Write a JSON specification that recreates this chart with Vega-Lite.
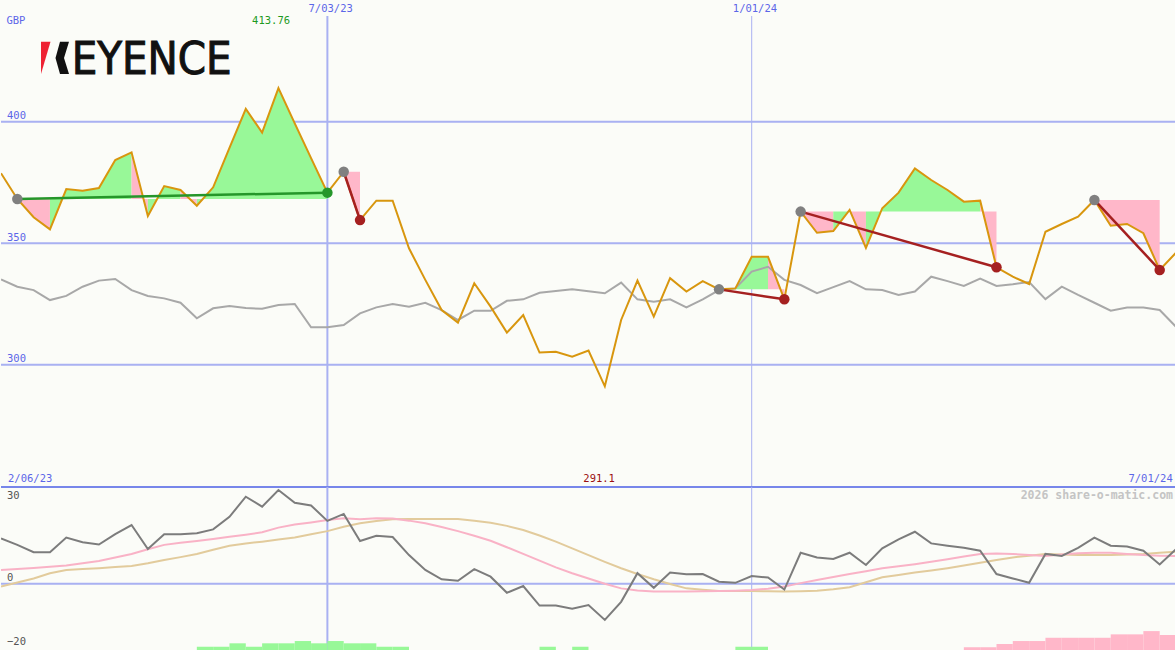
{
"$schema": "https://vega.github.io/schema/vega-lite/v6.json",
"background": "#fbfcf8",
"padding": 0,
"spacing": 0,
"bounds": "flush",
"config": {"view": {"stroke": null}, "axis": {"disable": true}, "legend": {"disable": true}, "text": {"font": "DejaVu Sans Mono", "fontSize": 10.5}},
"datasets": {
"main": [
{"w":0,"p":378.8,"r":335.1,"m":15.5,"f":4.7,"s":-1.0},
{"w":1,"p":368.2,"r":332.1,"m":13.3,"f":5.0,"s":0.4},
{"w":2,"p":360.7,"r":330.7,"m":10.8,"f":5.4,"s":1.8},
{"w":3,"p":355.7,"r":326.6,"m":10.8,"f":5.8,"s":3.6},
{"w":4,"p":372.3,"r":328.3,"m":15.8,"f":6.2,"s":4.7},
{"w":5,"p":371.6,"r":332.1,"m":14.2,"f":7.0,"s":5.0},
{"w":6,"p":372.7,"r":334.6,"m":13.4,"f":7.8,"s":5.3},
{"w":7,"p":384.2,"r":335.3,"m":17.0,"f":9.0,"s":5.7},
{"w":8,"p":387.4,"r":330.7,"m":20.1,"f":10.2,"s":6.1},
{"w":9,"p":361.2,"r":328.3,"m":11.9,"f":11.8,"s":7.0},
{"w":10,"p":373.5,"r":327.3,"m":16.9,"f":13.3,"s":8.1},
{"w":11,"p":371.9,"r":325.5,"m":16.9,"f":14.0,"s":9.1},
{"w":12,"p":365.4,"r":319.1,"m":17.3,"f":14.6,"s":10.2},
{"w":13,"p":373.0,"r":323.2,"m":18.6,"f":15.3,"s":11.6},
{"w":14,"p":389.2,"r":324.2,"m":22.9,"f":16.1,"s":13.0},
{"w":15,"p":405.3,"r":323.3,"m":29.8,"f":16.8,"s":13.8},
{"w":16,"p":395.5,"r":323.0,"m":26.4,"f":17.6,"s":14.4},
{"w":17,"p":413.8,"r":324.6,"m":32.1,"f":19.2,"s":15.1},
{"w":18,"p":399.3,"r":325.0,"m":27.7,"f":20.3,"s":15.8},
{"w":19,"p":385.0,"r":315.4,"m":26.8,"f":21.0,"s":16.9},
{"w":20,"p":370.8,"r":315.4,"m":21.5,"f":21.8,"s":18.0},
{"w":21,"p":379.4,"r":316.3,"m":23.9,"f":22.4,"s":19.5},
{"w":22,"p":359.5,"r":321.1,"m":14.6,"f":22.1,"s":20.7},
{"w":23,"p":367.5,"r":323.6,"m":16.4,"f":22.4,"s":21.5},
{"w":24,"p":367.5,"r":325.0,"m":16.0,"f":22.3,"s":22.1},
{"w":25,"p":347.9,"r":323.9,"m":9.8,"f":21.6,"s":22.2},
{"w":26,"p":334.9,"r":325.5,"m":4.7,"f":20.7,"s":22.2},
{"w":27,"p":322.5,"r":322.5,"m":1.5,"f":19.4,"s":22.2},
{"w":28,"p":317.3,"r":318.4,"m":1.0,"f":18.0,"s":22.2},
{"w":29,"p":333.5,"r":322.2,"m":5.0,"f":16.4,"s":21.6},
{"w":30,"p":323.9,"r":322.2,"m":2.4,"f":14.7,"s":20.9},
{"w":31,"p":313.2,"r":326.3,"m":-3.1,"f":12.5,"s":19.8},
{"w":32,"p":320.4,"r":326.9,"m":-0.8,"f":10.2,"s":18.4},
{"w":33,"p":305.0,"r":329.6,"m":-7.5,"f":7.9,"s":16.5},
{"w":34,"p":305.3,"r":330.3,"m":-7.5,"f":5.6,"s":14.4},
{"w":35,"p":303.3,"r":331.0,"m":-8.6,"f":3.6,"s":12.1},
{"w":36,"p":305.8,"r":330.2,"m":-7.3,"f":1.8,"s":9.8},
{"w":37,"p":291.1,"r":329.4,"m":-12.4,"f":0.0,"s":7.5},
{"w":38,"p":318.4,"r":333.8,"m":-6.2,"f":-1.6,"s":5.3},
{"w":39,"p":334.6,"r":326.9,"m":3.6,"f":-2.3,"s":3.3},
{"w":40,"p":319.8,"r":325.9,"m":-1.4,"f":-2.7,"s":1.5},
{"w":41,"p":335.6,"r":326.9,"m":3.8,"f":-2.7,"s":-0.1},
{"w":42,"p":330.1,"r":323.6,"m":3.2,"f":-2.7,"s":-1.6},
{"w":43,"p":334.4,"r":326.9,"m":3.3,"f":-2.6,"s":-2.1},
{"w":44,"p":331.0,"r":330.7,"m":0.7,"f":-2.5,"s":-2.5},
{"w":45,"p":331.4,"r":331.4,"m":0.3,"f":-2.4,"s":-2.5},
{"w":46,"p":344.4,"r":338.3,"m":2.6,"f":-2.2,"s":-2.5},
{"w":47,"p":344.4,"r":340.3,"m":2.1,"f":-1.7,"s":-2.6},
{"w":48,"p":326.9,"r":334.9,"m":-2.0,"f":-1.0,"s":-2.7},
{"w":49,"p":363.0,"r":332.8,"m":10.6,"f":0.2,"s":-2.6},
{"w":50,"p":354.3,"r":329.4,"m":9.0,"f":1.3,"s":-2.4},
{"w":51,"p":355.0,"r":331.9,"m":8.5,"f":2.3,"s":-1.9},
{"w":52,"p":363.7,"r":334.4,"m":10.6,"f":3.3,"s":-1.2},
{"w":53,"p":348.1,"r":331.0,"m":6.4,"f":4.3,"s":0.5},
{"w":54,"p":364.4,"r":330.7,"m":12.1,"f":5.3,"s":2.2},
{"w":55,"p":370.8,"r":328.7,"m":15.2,"f":6.0,"s":3.0},
{"w":56,"p":380.8,"r":330.1,"m":17.8,"f":6.7,"s":3.8},
{"w":57,"p":376.0,"r":336.2,"m":13.8,"f":7.5,"s":4.5},
{"w":58,"p":371.9,"r":334.4,"m":13.0,"f":8.4,"s":5.3},
{"w":59,"p":367.1,"r":332.4,"m":12.3,"f":9.3,"s":6.2},
{"w":60,"p":367.5,"r":335.4,"m":11.3,"f":10.2,"s":7.2},
{"w":61,"p":340.1,"r":332.4,"m":3.3,"f":10.3,"s":8.1},
{"w":62,"p":336.2,"r":333.1,"m":1.8,"f":10.2,"s":9.0},
{"w":63,"p":333.2,"r":334.0,"m":0.3,"f":9.8,"s":9.6},
{"w":64,"p":354.7,"r":327.0,"m":10.2,"f":9.5,"s":10.2},
{"w":65,"p":357.9,"r":332.1,"m":9.5,"f":10.0,"s":10.0},
{"w":66,"p":360.9,"r":328.7,"m":12.3,"f":10.4,"s":9.8},
{"w":67,"p":367.8,"r":325.5,"m":15.8,"f":10.6,"s":9.8},
{"w":68,"p":357.2,"r":322.2,"m":13.0,"f":10.6,"s":9.8},
{"w":69,"p":357.9,"r":323.5,"m":12.7,"f":10.2,"s":10.0},
{"w":70,"p":354.1,"r":323.5,"m":11.3,"f":9.8,"s":10.2},
{"w":71,"p":339.0,"r":322.5,"m":6.6,"f":9.6,"s":10.6},
{"w":72,"p":346.1,"r":315.6,"m":11.8,"f":9.5,"s":11.0}
],
"fills": [
{"run":"A1","w":1,"p":368.2,"b":368.2,"c":"dn"},
{"run":"A1","w":2,"p":360.7,"b":368.2,"c":"dn"},
{"run":"A1","w":3,"p":355.7,"b":368.2,"c":"dn"},
{"run":"A2","w":3,"p":355.7,"b":368.2,"c":"up"},
{"run":"A2","w":4,"p":372.3,"b":368.2,"c":"up"},
{"run":"A2","w":5,"p":371.6,"b":368.2,"c":"up"},
{"run":"A2","w":6,"p":372.7,"b":368.2,"c":"up"},
{"run":"A2","w":7,"p":384.2,"b":368.2,"c":"up"},
{"run":"A2","w":8,"p":387.4,"b":368.2,"c":"up"},
{"run":"A3","w":8,"p":387.4,"b":368.2,"c":"dn"},
{"run":"A3","w":9,"p":361.2,"b":368.2,"c":"dn"},
{"run":"A4","w":9,"p":361.2,"b":368.2,"c":"up"},
{"run":"A4","w":10,"p":373.5,"b":368.2,"c":"up"},
{"run":"A4","w":11,"p":371.9,"b":368.2,"c":"up"},
{"run":"A5","w":11,"p":371.9,"b":368.2,"c":"dn"},
{"run":"A5","w":12,"p":365.4,"b":368.2,"c":"dn"},
{"run":"A6","w":12,"p":365.4,"b":368.2,"c":"up"},
{"run":"A6","w":13,"p":373.0,"b":368.2,"c":"up"},
{"run":"A6","w":14,"p":389.2,"b":368.2,"c":"up"},
{"run":"A6","w":15,"p":405.3,"b":368.2,"c":"up"},
{"run":"A6","w":16,"p":395.5,"b":368.2,"c":"up"},
{"run":"A6","w":17,"p":413.8,"b":368.2,"c":"up"},
{"run":"A6","w":18,"p":399.3,"b":368.2,"c":"up"},
{"run":"A6","w":19,"p":385.0,"b":368.2,"c":"up"},
{"run":"A6","w":20,"p":370.8,"b":368.2,"c":"up"},
{"run":"B1","w":21,"p":379.4,"b":379.4,"c":"dn"},
{"run":"B1","w":22,"p":359.5,"b":379.4,"c":"dn"},
{"run":"C1","w":44,"p":331.0,"b":331.0,"c":"up"},
{"run":"C1","w":45,"p":331.4,"b":331.0,"c":"up"},
{"run":"C1","w":46,"p":344.4,"b":331.0,"c":"up"},
{"run":"C1","w":47,"p":344.4,"b":331.0,"c":"up"},
{"run":"C2","w":47,"p":344.4,"b":331.0,"c":"dn"},
{"run":"C2","w":48,"p":326.9,"b":331.0,"c":"dn"},
{"run":"D1","w":49,"p":363.0,"b":363.0,"c":"dn"},
{"run":"D1","w":50,"p":354.3,"b":363.0,"c":"dn"},
{"run":"D1","w":51,"p":355.0,"b":363.0,"c":"dn"},
{"run":"D2","w":51,"p":355.0,"b":363.0,"c":"up"},
{"run":"D2","w":52,"p":363.7,"b":363.0,"c":"up"},
{"run":"D3","w":52,"p":363.7,"b":363.0,"c":"dn"},
{"run":"D3","w":53,"p":348.1,"b":363.0,"c":"dn"},
{"run":"D4","w":53,"p":348.1,"b":363.0,"c":"up"},
{"run":"D4","w":54,"p":364.4,"b":363.0,"c":"up"},
{"run":"D4","w":55,"p":370.8,"b":363.0,"c":"up"},
{"run":"D4","w":56,"p":380.8,"b":363.0,"c":"up"},
{"run":"D4","w":57,"p":376.0,"b":363.0,"c":"up"},
{"run":"D4","w":58,"p":371.9,"b":363.0,"c":"up"},
{"run":"D4","w":59,"p":367.1,"b":363.0,"c":"up"},
{"run":"D4","w":60,"p":367.5,"b":363.0,"c":"up"},
{"run":"D5","w":60,"p":367.5,"b":363.0,"c":"dn"},
{"run":"D5","w":61,"p":340.1,"b":363.0,"c":"dn"},
{"run":"E1","w":67,"p":367.8,"b":367.8,"c":"dn"},
{"run":"E1","w":68,"p":357.2,"b":367.8,"c":"dn"},
{"run":"E1","w":69,"p":357.9,"b":367.8,"c":"dn"},
{"run":"E1","w":70,"p":354.1,"b":367.8,"c":"dn"},
{"run":"E1","w":71,"p":339.0,"b":367.8,"c":"dn"}
],
"sig": [
{"sig":"A","w":1,"v":368.2,"k":"buy"},
{"sig":"A","w":20,"v":370.8,"k":"buy"},
{"sig":"B","w":21,"v":379.4,"k":"sell"},
{"sig":"B","w":22,"v":359.5,"k":"sell"},
{"sig":"C","w":44,"v":331.0,"k":"sell"},
{"sig":"C","w":48,"v":326.9,"k":"sell"},
{"sig":"D","w":49,"v":363.0,"k":"sell"},
{"sig":"D","w":61,"v":340.1,"k":"sell"},
{"sig":"E","w":67,"v":367.8,"k":"sell"},
{"sig":"E","w":71,"v":339.0,"k":"sell"}
],
"marks": [
{"w":1,"v":368.2,"k":"start"},
{"w":21,"v":379.4,"k":"start"},
{"w":44,"v":331.0,"k":"start"},
{"w":49,"v":363.0,"k":"start"},
{"w":67,"v":367.8,"k":"start"},
{"w":20,"v":370.8,"k":"buy"},
{"w":22,"v":359.5,"k":"sell"},
{"w":48,"v":326.9,"k":"sell"},
{"w":61,"v":340.1,"k":"sell"},
{"w":71,"v":339.0,"k":"sell"}
],
"bars": [
{"w":12,"w2":13,"h":1,"c":"up"},
{"w":13,"w2":14,"h":1,"c":"up"},
{"w":14,"w2":15,"h":2.05,"c":"up"},
{"w":15,"w2":16,"h":1,"c":"up"},
{"w":16,"w2":17,"h":2.05,"c":"up"},
{"w":17,"w2":18,"h":2.05,"c":"up"},
{"w":18,"w2":19,"h":2.75,"c":"up"},
{"w":19,"w2":20,"h":2.05,"c":"up"},
{"w":20,"w2":21,"h":2.75,"c":"up"},
{"w":21,"w2":22,"h":2.05,"c":"up"},
{"w":22,"w2":23,"h":2.05,"c":"up"},
{"w":23,"w2":24,"h":1,"c":"up"},
{"w":24,"w2":25,"h":1,"c":"up"},
{"w":33,"w2":34,"h":1,"c":"up"},
{"w":35,"w2":36,"h":1,"c":"up"},
{"w":45,"w2":46,"h":1,"c":"up"},
{"w":46,"w2":47,"h":1,"c":"up"},
{"w":59,"w2":60,"h":0.85,"c":"dn"},
{"w":60,"w2":61,"h":0.85,"c":"dn"},
{"w":61,"w2":62,"h":1.85,"c":"dn"},
{"w":62,"w2":63,"h":2.75,"c":"dn"},
{"w":63,"w2":64,"h":2.75,"c":"dn"},
{"w":64,"w2":65,"h":3.75,"c":"dn"},
{"w":65,"w2":66,"h":3.75,"c":"dn"},
{"w":66,"w2":67,"h":3.75,"c":"dn"},
{"w":67,"w2":68,"h":3.75,"c":"dn"},
{"w":68,"w2":69,"h":4.8,"c":"dn"},
{"w":69,"w2":70,"h":4.8,"c":"dn"},
{"w":70,"w2":71,"h":5.8,"c":"dn"},
{"w":71,"w2":72,"h":4.6,"c":"dn"}
]
},
"vconcat": [
{
"width": 1175, "height": 487,
"layer": [
{"data": {"values": [{"g":300},{"g":350},{"g":400}]}, "mark": {"type":"rule","color":"#a9b1f2","strokeWidth":2},
 "encoding": {"y": {"field":"g","type":"quantitative","scale":{"domain":[249.67,450.08],"nice":false,"zero":false}}}},
{"data": {"values": [{"g":300},{"g":350},{"g":400}]}, "mark": {"type":"text","align":"left","baseline":"alphabetic","dx":6,"dy":-2.5,"color":"#5b66e8"},
 "encoding": {"x": {"datum":0,"type":"quantitative","scale":{"domain":[0,72],"nice":false,"zero":false}},
  "y": {"field":"g","type":"quantitative","scale":{"domain":[249.67,450.08],"nice":false,"zero":false}},
  "text": {"field":"g","type":"quantitative"}}},
{"data": {"values": [{}]}, "mark": {"type":"rule","color":"#a9b1f2","strokeWidth":2},
 "encoding": {"x": {"datum":20,"type":"quantitative","scale":{"domain":[0,72],"nice":false,"zero":false}},
  "y": {"datum":443.5,"type":"quantitative","scale":{"domain":[249.67,450.08],"nice":false,"zero":false}},
  "y2": {"datum":249.67}}},
{"data": {"values": [{}]}, "mark": {"type":"rule","color":"#a9b1f2","strokeWidth":1},
 "encoding": {"x": {"datum":46,"type":"quantitative","scale":{"domain":[0,72],"nice":false,"zero":false}},
  "y": {"datum":443.5,"type":"quantitative","scale":{"domain":[249.67,450.08],"nice":false,"zero":false}},
  "y2": {"datum":249.67}}},
{"data": {"values": [{}]}, "mark": {"type":"rule","color":"#7786ea","strokeWidth":2,"clip":true},
 "encoding": {"y": {"datum":249.67,"type":"quantitative","scale":{"domain":[249.67,450.08],"nice":false,"zero":false}}}},
{"data": {"name":"fills"}, "mark": {"type":"area","clip":true,"opacity":1},
 "encoding": {"x": {"field":"w","type":"quantitative","scale":{"domain":[0,72],"nice":false,"zero":false}},
  "y": {"field":"p","type":"quantitative","stack":null,"scale":{"domain":[249.67,450.08],"nice":false,"zero":false}},
  "y2": {"field":"b"},
  "detail": {"field":"run"},
  "color": {"field":"c","type":"nominal","legend":null,"scale":{"domain":["up","dn","start","buy","sell"],"range":["#98f898","#ffb7c9","#808080","#25962a","#a52020"]}}}},
{"data": {"name":"main"}, "mark": {"type":"line","color":"#a8a8a8","strokeWidth":2,"clip":true},
 "encoding": {"x": {"field":"w","type":"quantitative","scale":{"domain":[0,72],"nice":false,"zero":false}},
  "y": {"field":"r","type":"quantitative","scale":{"domain":[249.67,450.08],"nice":false,"zero":false}}}},
{"data": {"name":"main"}, "mark": {"type":"line","color":"#d8960e","strokeWidth":2,"clip":true},
 "encoding": {"x": {"field":"w","type":"quantitative","scale":{"domain":[0,72],"nice":false,"zero":false}},
  "y": {"field":"p","type":"quantitative","scale":{"domain":[249.67,450.08],"nice":false,"zero":false}}}},
{"data": {"name":"sig"}, "mark": {"type":"line","strokeWidth":2.5},
 "encoding": {"x": {"field":"w","type":"quantitative","scale":{"domain":[0,72],"nice":false,"zero":false}},
  "y": {"field":"v","type":"quantitative","scale":{"domain":[249.67,450.08],"nice":false,"zero":false}},
  "detail": {"field":"sig"},
  "color": {"field":"k","type":"nominal","legend":null,"scale":{"domain":["up","dn","start","buy","sell"],"range":["#98f898","#ffb7c9","#808080","#25962a","#a52020"]}}}},
{"data": {"name":"marks"}, "mark": {"type":"point","filled":true,"opacity":1,"size":110},
 "encoding": {"x": {"field":"w","type":"quantitative","scale":{"domain":[0,72],"nice":false,"zero":false}},
  "y": {"field":"v","type":"quantitative","scale":{"domain":[249.67,450.08],"nice":false,"zero":false}},
  "color": {"field":"k","type":"nominal","legend":null,"scale":{"domain":["up","dn","start","buy","sell"],"range":["#98f898","#ffb7c9","#808080","#25962a","#a52020"]}}}},
{"data": {"values": [{}]}, "mark": {"type":"text","text":"GBP","align":"left","baseline":"middle","color":"#5b66e8"},
 "encoding": {"x": {"datum":0.33,"type":"quantitative"}, "y": {"datum":441.6,"type":"quantitative"}}},
{"data": {"values": [{}]}, "mark": {"type":"text","text":"413.76","align":"center","baseline":"middle","color":"#1e9a1e"},
 "encoding": {"x": {"datum":16.55,"type":"quantitative"}, "y": {"datum":441.4,"type":"quantitative"}}},
{"data": {"values": [{}]}, "mark": {"type":"text","text":"7/03/23","align":"center","baseline":"middle","color":"#5b66e8"},
 "encoding": {"x": {"datum":20.2,"type":"quantitative"}, "y": {"datum":446.4,"type":"quantitative"}}},
{"data": {"values": [{}]}, "mark": {"type":"text","text":"1/01/24","align":"center","baseline":"middle","color":"#5b66e8"},
 "encoding": {"x": {"datum":46.2,"type":"quantitative"}, "y": {"datum":446.4,"type":"quantitative"}}},
{"data": {"values": [{}]}, "mark": {"type":"text","text":"2/06/23","align":"left","baseline":"middle","color":"#5b66e8"},
 "encoding": {"x": {"datum":0.43,"type":"quantitative"}, "y": {"datum":252.8,"type":"quantitative"}}},
{"data": {"values": [{}]}, "mark": {"type":"text","text":"291.1","align":"center","baseline":"middle","color":"#9b1010"},
 "encoding": {"x": {"datum":36.65,"type":"quantitative"}, "y": {"datum":252.8,"type":"quantitative"}}},
{"data": {"values": [{}]}, "mark": {"type":"text","text":"7/01/24","align":"right","baseline":"middle","color":"#5b66e8"},
 "encoding": {"x": {"datum":71.8,"type":"quantitative"}, "y": {"datum":252.8,"type":"quantitative"}}},
{"data": {"values": [{}]}, "mark": {"type":"point","shape":"M -5 -16.3 L 4.5 -16.3 L -5 16 Z","size":4,"filled":true,"opacity":1,"color":"#ee2233"},
 "encoding": {"x": {"datum":2.757,"type":"quantitative"}, "y": {"datum":426.2,"type":"quantitative"}}},
{"data": {"values": [{}]}, "mark": {"type":"point","shape":"M -2 -16.3 L 7 -16.3 L 2 0 L 7 16 L -2 16 L -6.5 0 Z","size":4,"filled":true,"opacity":1,"color":"#111111"},
 "encoding": {"x": {"datum":3.738,"type":"quantitative"}, "y": {"datum":426.2,"type":"quantitative"}}},
{"data": {"values": [{}]}, "mark": {"type":"text","text":"EYENCE","font":"DejaVu Sans Condensed","fontSize":45,"align":"left","baseline":"alphabetic","color":"#111111","stroke":"#111111","strokeWidth":1},
 "encoding": {"x": {"datum":4.33,"type":"quantitative"}, "y": {"datum":419.6,"type":"quantitative"}}}
]
},
{
"width": 1175, "height": 163,
"resolve": {"scale": {"y": "independent"}},
"layer": [
{"data": {"values": [{}]}, "mark": {"type":"rule","color":"#a9b1f2","strokeWidth":2},
 "encoding": {"y": {"datum":0,"type":"quantitative","scale":{"domain":[-22.71,33.12],"nice":false,"zero":false}}}},
{"data": {"values": [{}]}, "mark": {"type":"rule","color":"#7786ea","strokeWidth":2,"clip":true},
 "encoding": {"y": {"datum":33.12,"type":"quantitative","scale":{"domain":[-22.71,33.12],"nice":false,"zero":false}}}},
{"data": {"values": [{}]}, "mark": {"type":"rule","color":"#a9b1f2","strokeWidth":2},
 "encoding": {"x": {"datum":20,"type":"quantitative","scale":{"domain":[0,72],"nice":false,"zero":false}}}},
{"data": {"values": [{}]}, "mark": {"type":"rule","color":"#a9b1f2","strokeWidth":1},
 "encoding": {"x": {"datum":46,"type":"quantitative","scale":{"domain":[0,72],"nice":false,"zero":false}}}},
{"data": {"name":"bars"}, "mark": {"type":"rect","clip":true},
 "encoding": {"x": {"field":"w","type":"quantitative","scale":{"domain":[0,72],"nice":false,"zero":false}},
  "x2": {"field":"w2"},
  "y": {"field":"h","type":"quantitative","scale":{"domain":[0,50],"nice":false}},
  "y2": {"datum":0},
  "color": {"field":"c","type":"nominal","legend":null,"scale":{"domain":["up","dn"],"range":["#98f898","#ffb7c9"]}}}},
{"data": {"name":"main"}, "mark": {"type":"line","color":"#e2cb9c","strokeWidth":2,"clip":true},
 "encoding": {"x": {"field":"w","type":"quantitative","scale":{"domain":[0,72],"nice":false,"zero":false}},
  "y": {"field":"s","type":"quantitative","scale":{"domain":[-22.71,33.12],"nice":false,"zero":false}}}},
{"data": {"name":"main"}, "mark": {"type":"line","color":"#f9b2c6","strokeWidth":2,"clip":true},
 "encoding": {"x": {"field":"w","type":"quantitative","scale":{"domain":[0,72],"nice":false,"zero":false}},
  "y": {"field":"f","type":"quantitative","scale":{"domain":[-22.71,33.12],"nice":false,"zero":false}}}},
{"data": {"name":"main"}, "mark": {"type":"line","color":"#7c7c7c","strokeWidth":2,"clip":true},
 "encoding": {"x": {"field":"w","type":"quantitative","scale":{"domain":[0,72],"nice":false,"zero":false}},
  "y": {"field":"m","type":"quantitative","scale":{"domain":[-22.71,33.12],"nice":false,"zero":false}}}},
{"data": {"values": [{"g":30},{"g":-20}]}, "mark": {"type":"text","align":"left","baseline":"middle","dx":6,"color":"#555555"},
 "encoding": {"x": {"datum":0,"type":"quantitative"},
  "y": {"field":"g","type":"quantitative","scale":{"domain":[-22.71,33.12],"nice":false,"zero":false}},
  "text": {"field":"g","type":"quantitative"}}},
{"data": {"values": [{"g":0}]}, "mark": {"type":"text","align":"left","baseline":"middle","dx":6,"dy":-5.5,"color":"#555555"},
 "encoding": {"x": {"datum":0,"type":"quantitative"},
  "y": {"field":"g","type":"quantitative","scale":{"domain":[-22.71,33.12],"nice":false,"zero":false}},
  "text": {"field":"g","type":"quantitative"}}},
{"data": {"values": [{}]}, "mark": {"type":"text","text":"2026 share-o-matic.com","align":"right","baseline":"middle","dx":-3,"fontSize":11.5,"fontWeight":"bold","color":"#c4c4c4"},
 "encoding": {"x": {"datum":72,"type":"quantitative"},
  "y": {"datum":30,"type":"quantitative","scale":{"domain":[-22.71,33.12],"nice":false,"zero":false}}}}
]
}
]
}
